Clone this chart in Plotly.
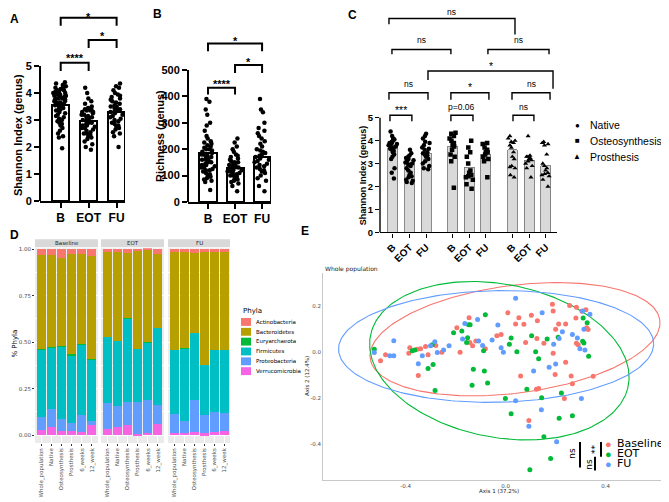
import numpy as np
import plotly.graph_objects as go

W, H = 669, 502
OFF = 8  # the page body adds an 8 px margin around the figure
ARIAL = "Liberation Sans, Arial, sans-serif"
GG = "DejaVu Sans, Liberation Sans, sans-serif"

# ---------------- panels A / B: diversity per time point ----------------
timepoints = ["B", "EOT", "FU"]

shannon_mean = [3.55, 2.95, 3.30]
shannon_b = [4.4, 4.35, 4.3, 4.25, 4.2, 4.2, 4.15, 4.1, 4.1, 4.05, 4.05, 4.0, 4.0, 4.0, 3.95,
             3.95, 3.9, 3.9, 3.9, 3.85, 3.85, 3.8, 3.8, 3.8, 3.75, 3.75, 3.7, 3.7, 3.65, 3.65,
             3.6, 3.6, 3.55, 3.55, 3.5, 3.5, 3.45, 3.4, 3.4, 3.35, 3.3, 3.25, 3.2, 3.15, 3.1,
             3.05, 3.0, 2.95, 2.9, 2.85, 2.8, 2.7, 2.6, 2.5, 2.4, 2.35, 1.95]
shannon_eot = [4.2, 4.0, 3.8, 3.7, 3.6, 3.5, 3.45, 3.4, 3.4, 3.35, 3.35, 3.3, 3.3, 3.25, 3.2,
               3.2, 3.15, 3.1, 3.1, 3.05, 3.0, 3.0, 2.95, 2.9, 2.9, 2.85, 2.8, 2.8, 2.75, 2.7,
               2.7, 2.65, 2.6, 2.55, 2.5, 2.5, 2.45, 2.4, 2.35, 2.3, 2.2, 2.1, 2.0, 1.9]
shannon_fu = [4.35, 4.25, 4.2, 4.1, 4.0, 3.95, 3.9, 3.85, 3.8, 3.75, 3.7, 3.65, 3.6, 3.55, 3.5,
              3.5, 3.45, 3.4, 3.4, 3.35, 3.3, 3.3, 3.25, 3.2, 3.15, 3.1, 3.05, 3.0, 2.95, 2.9,
              2.85, 2.8, 2.75, 2.7, 2.65, 2.55, 2.5, 2.4, 2.0]

richness_mean = [185, 130, 172]
richness_b = [390, 380, 350, 330, 300, 290, 270, 250, 240, 230, 225, 220, 215, 210, 205, 200,
              200, 195, 190, 185, 180, 180, 175, 170, 170, 165, 160, 160, 155, 150, 150, 145,
              140, 140, 135, 130, 130, 125, 120, 120, 115, 110, 105, 100, 95, 90, 85, 80, 75, 45]
richness_eot = [240, 225, 210, 200, 190, 180, 175, 170, 165, 160, 155, 150, 150, 145, 140, 140,
                135, 135, 130, 130, 125, 125, 120, 120, 115, 115, 110, 110, 105, 100, 100, 95,
                90, 85, 80, 75, 70, 60, 40]
richness_fu = [390, 350, 340, 300, 280, 270, 260, 250, 240, 230, 220, 210, 200, 195, 190, 185,
               180, 175, 170, 165, 160, 155, 150, 145, 140, 135, 130, 125, 120, 115, 110, 100,
               90, 80, 60, 40]

# ---------------- panel C: Shannon by surgery type ----------------
surgery = ["Native", "Osteosynthesis", "Prosthesis"]
surgery_symbol = ["circle", "square", "triangle-up"]
c_mean = {
    "Native": [3.70, 3.05, 3.45],
    "Osteosynthesis": [3.75, 2.85, 3.40],
    "Prosthesis": [3.60, 3.15, 2.90],
}
c_native = [
    [4.4, 4.2, 4.1, 4.05, 4.0, 3.95, 3.9, 3.9, 3.85, 3.8, 3.8, 3.75, 3.7, 3.7, 3.65, 3.6, 3.55,
     3.5, 3.4, 3.3, 3.2, 2.8, 2.6, 2.35],
    [3.6, 3.45, 3.35, 3.3, 3.25, 3.2, 3.15, 3.1, 3.05, 3.0, 2.95, 2.9, 2.8, 2.7, 2.6, 2.5,
     2.45, 2.4, 2.3, 2.25, 2.2, 2.15],
    [4.3, 4.2, 4.1, 3.95, 3.9, 3.8, 3.7, 3.65, 3.6, 3.5, 3.45, 3.4, 3.35, 3.3, 3.2, 3.1, 3.0,
     2.9, 2.8, 2.75],
]
c_osteo = [
    [4.35, 4.3, 4.2, 4.1, 4.0, 3.9, 3.8, 3.75, 3.6, 3.4, 3.3, 3.1, 1.95],
    [4.0, 3.7, 3.5, 3.3, 3.0, 2.7, 2.6, 2.5, 2.45, 2.4, 2.3, 2.1, 1.9],
    [3.9, 3.85, 3.7, 3.6, 3.5, 3.5, 3.4, 3.3, 3.2, 3.1, 2.4],
]
c_prosth = [
    [4.2, 4.1, 4.0, 3.95, 3.9, 3.8, 3.7, 3.5, 3.3, 3.2, 2.9, 2.85, 2.8, 2.5, 2.4],
    [4.2, 3.35, 3.3, 3.3, 3.25, 3.2, 3.15, 3.1, 3.0, 2.9, 2.8, 2.4],
    [3.95, 3.9, 3.85, 3.8, 3.4, 3.0, 2.9, 2.8, 2.7, 2.6, 2.55, 2.5, 2.45, 2.3, 2.0],
]

# ---------------- panel D: relative abundance of phyla ----------------
facets = ["Baseline", "EOT", "FU"]
d_samples = ["Whole_population", "Native", "Osteosynthesis", "Prosthesis", "6_weeks", "12_week"]
phyla = ["Actinobacteria", "Bacteroidetes", "Euryarchaeota", "Firmicutes",
         "Proteobacteria", "Verrucomicrobia"]
phyla_colors = ["#F8766D", "#B79F00", "#00BA38", "#00BFC4", "#619CFF", "#F564E3"]
# 18 values each: 6 samples x (Baseline, EOT, FU)
actinobacteria = [0.032, 0.030, 0.046, 0.025, 0.025, 0.037,
                  0.018, 0.015, 0.021, 0.010, 0.005, 0.028,
                  0.018, 0.018, 0.020, 0.014, 0.018, 0.018]
bacteroidetes = [0.505, 0.495, 0.474, 0.540, 0.485, 0.551,
                 0.452, 0.477, 0.351, 0.526, 0.496, 0.395,
                 0.523, 0.512, 0.429, 0.608, 0.523, 0.523]
euryarchaeota = [0.005, 0.005, 0.005, 0.005, 0.004, 0.007,
                 0.002, 0.001, 0.001, 0.001, 0.001, 0.001,
                 0.001, 0.003, 0.001, 0.001, 0.001, 0.001]
firmicutes = [0.358, 0.330, 0.390, 0.365, 0.376, 0.327,
              0.356, 0.349, 0.451, 0.283, 0.308, 0.414,
              0.343, 0.393, 0.360, 0.269, 0.335, 0.340]
proteobacteria = [0.070, 0.096, 0.065, 0.045, 0.092, 0.025,
                  0.137, 0.114, 0.123, 0.176, 0.176, 0.104,
                  0.101, 0.060, 0.172, 0.099, 0.105, 0.098]
verrucomicrobia = [0.030, 0.044, 0.020, 0.020, 0.018, 0.053,
                   0.035, 0.044, 0.053, 0.004, 0.014, 0.058,
                   0.014, 0.014, 0.018, 0.009, 0.018, 0.020]
phyla_values = [actinobacteria, bacteroidetes, euryarchaeota, firmicutes,
                proteobacteria, verrucomicrobia]

# ---------------- panel E: PCoA, whole population ----------------
e_groups = ["Baseline", "EOT", "FU"]
e_colors = ["#F8766D", "#00BA38", "#619CFF"]
base_x = [-0.480, -0.500, -0.383, -0.387, -0.353, -0.340, -0.320, -0.310, -0.279, -0.349,
          -0.255, -0.195, -0.182, -0.146, -0.143, -0.132, -0.119, -0.081, -0.035, -0.018,
          0.009, 0.040, 0.053, 0.073, 0.103, 0.127, 0.187, 0.190, 0.212, 0.240, 0.256, 0.283,
          0.281, 0.305, 0.321, 0.330, 0.324, 0.200, 0.080, 0.125, 0.153, 0.190, 0.240, 0.060,
          0.198, 0.262, 0.267, 0.350, 0.123, 0.132, 0.235, 0.093, 0.283, 0.290]
base_y = [-0.010, -0.036, 0.021, -0.003, 0.014, 0.016, 0.026, -0.010, 0.030, -0.100,
          0.001, 0.108, 0.001, 0.151, 0.043, 0.029, 0.050, 0.016, 0.073, 0.078,
          0.173, 0.124, 0.151, 0.123, 0.162, 0.138, 0.210, 0.180, 0.124, 0.124, 0.204, 0.197,
          0.150, 0.179, 0.186, 0.100, 0.108, 0.101, 0.043, 0.061, 0.040, -0.003, -0.043, -0.103,
          -0.096, -0.103, -0.136, -0.104, -0.160, -0.157, -0.201, -0.296, 0.040, 0.033]
eot_x = [-0.525, -0.373, -0.363, -0.293, -0.290, -0.310, -0.282, -0.208, -0.175, -0.156,
         -0.152, -0.148, -0.142, -0.129, -0.134, -0.085, -0.081, -0.088, -0.072,
         0.022, 0.015, 0.045, 0.104, 0.120, 0.132, 0.166, 0.210, 0.310, 0.326, 0.308, 0.313,
         0.332, 0.085, -0.001, 0.144, 0.223, 0.022, 0.214, 0.267, 0.153, 0.180, 0.097]
eot_y = [0.014, 0.007, 0.011, 0.033, -0.053, -0.070, -0.166, 0.086, 0.093, 0.043,
         0.064, 0.121, 0.121, -0.073, -0.143, -0.081, 0.164, 0.007, -0.133,
         0.063, 0.036, 0.003, 0.073, 0.003, -0.027, 0.059, 0.066, 0.150, 0.129, 0.049, 0.041,
         -0.017, -0.160, -0.201, -0.197, -0.177, -0.267, -0.286, -0.276, -0.367, -0.462, -0.511]
fu_x = [-0.525, -0.447, -0.463, -0.447, -0.349, -0.333, -0.300, -0.283, -0.273, -0.248,
        -0.226, -0.172, -0.163, -0.112, -0.108, -0.092, -0.054, -0.031, -0.018,
        0.040, 0.146, 0.227, 0.267, 0.287, 0.308, 0.313, 0.337, 0.214, 0.192, -0.009, 0.317,
        0.297, 0.200, 0.174, 0.112, 0.303, 0.040, 0.143, 0.093, 0.204]
fu_y = [0.000, 0.051, -0.014, -0.014, -0.049, -0.014, 0.029, 0.047, 0.000, 0.011,
        0.029, 0.059, 0.126, 0.143, 0.050, 0.030, 0.054, 0.119, 0.021,
        0.236, 0.173, 0.090, 0.078, 0.063, 0.180, 0.101, 0.166, 0.061, 0.036, 0.001, 0.011,
        0.016, -0.050, -0.064, -0.081, -0.200, -0.210, -0.250, -0.321, -0.389]
# 95% ellipses: centre x, centre y, semi-major, semi-minor, angle (deg)
ellipse_params = [(0.0375, 0.0575, 0.585, 0.234, 8.4),
                  (-0.025, -0.036, 0.527, 0.332, -13.2),
                  (-0.038, 0.026, 0.630, 0.243, 1.2)]


def px(p):
    return min(max((p - OFF) / W, 0), 1)


def py(p):
    return min(max(1 - (p - OFF) / H, 0), 1)


fig = go.Figure()
shapes = []
annotations = []


def ann(text, x, y, xref="paper", yref="paper", size=10, family=ARIAL, color="black",
        weight="normal", xanchor="center", yanchor="middle", **kw):
    if xref == "paper":
        x = (x - OFF) / W
    if yref == "paper":
        y = 1 - (y - OFF) / H
    annotations.append(dict(text=text, x=x, y=y, xref=xref, yref=yref, showarrow=False,
                            xanchor=xanchor, yanchor=yanchor,
                            font=dict(size=size, family=family, color=color, weight=weight),
                            **kw))


def hidden_box(vals, x0, width, xa, ya, symbol="circle", size=4.5):
    return go.Box(y=vals, x0=x0, width=width, boxpoints="all", jitter=0.9, pointpos=0,
                  marker=dict(color="black", size=size, symbol=symbol),
                  line=dict(width=0, color="rgba(0,0,0,0)"), fillcolor="rgba(0,0,0,0)",
                  whiskerwidth=0, xaxis=xa, yaxis=ya, hoverinfo="skip", showlegend=False)


def bracket(xa, ya, x0, x1, y, l0, l1, label, ly, size, bold, lw):
    shapes.append(dict(type="path", xref=xa, yref=ya,
                       path=f"M {x0},{l0} L {x0},{y} L {x1},{y} L {x1},{l1}",
                       line=dict(color="black", width=lw)))
    star = label.startswith("*")
    ann(label, (x0 + x1) / 2, ly, xref=xa, yref=ya, size=size + (2 if star else 0),
        weight="bold" if bold else "normal", yshift=-3 if star else 0)


# ---- A ----
fig.add_trace(go.Bar(x=[0, 1, 2], y=shannon_mean, width=0.6, xaxis="x", yaxis="y",
                     marker=dict(color="white", line=dict(color="black", width=2)),
                     showlegend=False, hoverinfo="skip"))
for i, vals in enumerate([shannon_b, shannon_eot, shannon_fu]):
    fig.add_trace(hidden_box(vals, i, 0.6, "x", "y"))
for x0, x1, y, l0, l1, lab, ly in [(0, 2, 6.79, 6.50, 6.50, "*", 6.93),
                                   (1, 2, 5.97, 5.67, 5.67, "*", 6.21),
                                   (0, 1, 5.12, 4.82, 4.82, "****", 5.43)]:
    bracket("x", "y", x0, x1, y, l0, l1, lab, ly, 9, True, 2)

# ---- B ----
fig.add_trace(go.Bar(x=[0, 1, 2], y=richness_mean, width=0.63, xaxis="x2", yaxis="y2",
                     marker=dict(color="white", line=dict(color="black", width=2)),
                     showlegend=False, hoverinfo="skip"))
for i, vals in enumerate([richness_b, richness_eot, richness_fu]):
    fig.add_trace(hidden_box(vals, i, 0.63, "x2", "y2"))
for x0, x1, y, l0, l1, lab, ly in [(0, 2, 601, 571, 571, "*", 623),
                                   (1, 2, 519, 489, 489, "*", 541),
                                   (0, 1, 433, 407, 407, "****", 459)]:
    bracket("x2", "y2", x0, x1, y, l0, l1, lab, ly, 9, True, 2)

# ---- C ----
c_pos = [g * 3.6 + k for g in range(3) for k in range(3)]
c_heights = [v for s in surgery for v in c_mean[s]]
fig.add_trace(go.Bar(x=c_pos, y=c_heights, width=0.6, xaxis="x3", yaxis="y3",
                     marker=dict(color="#D9D9D9", line=dict(color="#6E6E6E", width=0.8)),
                     showlegend=False, hoverinfo="skip"))
for g, group in enumerate([c_native, c_osteo, c_prosth]):
    for k, vals in enumerate(group):
        fig.add_trace(hidden_box(vals, g * 3.6 + k, 0.6, "x3", "y3",
                                 symbol=surgery_symbol[g], size=4.5))
c_brackets = [
    (-0.24, 7.35, 9.33, 9.08, 8.63, "ns", 9.62),
    (-0.06, 3.49, 7.98, 7.77, 7.77, "ns", 8.41),
    (5.72, 9.40, 7.98, 7.77, 7.77, "ns", 8.41),
    (2.11, 9.64, 7.04, 6.65, 6.27, "*", 7.38),
    (-0.24, 2.11, 6.09, 5.79, 5.79, "ns", 6.48),
    (3.49, 5.78, 6.09, 5.79, 5.79, "*", 6.48),
    (7.17, 9.46, 6.09, 5.79, 5.79, "ns", 6.48),
    (-0.18, 1.14, 5.11, 4.85, 4.85, "***", 5.45),
    (3.49, 4.82, 5.11, 4.85, 4.85, "p=0.06", 5.45),
    (7.23, 8.49, 5.11, 4.85, 4.85, "ns", 5.45),
]
for x0, x1, y, l0, l1, lab, ly in c_brackets:
    bracket("x3", "y3", x0, x1, y, l0, l1, lab, ly, 8.5, False, 1.4)
for i, (name, sym) in enumerate(zip(surgery, ["\u25CF", "\u25A0", "\u25B2"])):
    ann(sym, 577, 125 + 16 * i, size=8)
    ann(name, 588, 125 + 16 * i, size=10.5, xanchor="left")

# ---- D ----
d_dom = [(35, 98), (101, 164), (168, 230)]
for f, facet in enumerate(facets):
    xa = "x" + str(4 + f)
    ya = "y" + str(4 + f)
    # stack from the bottom: last phylum first
    for p in reversed(range(len(phyla))):
        fig.add_trace(go.Bar(x=d_samples, y=phyla_values[p][f * 6:(f + 1) * 6], width=0.9,
                             marker=dict(color=phyla_colors[p], line=dict(width=0)),
                             xaxis=xa, yaxis=ya, showlegend=False, hoverinfo="skip"))
    shapes.append(dict(type="rect", xref=xa + " domain", yref=ya + " domain", x0=0, x1=1,
                       y0=0, y1=1, fillcolor="#EBEBEB", line=dict(width=0), layer="below"))
    shapes.append(dict(type="rect", xref=xa + " domain", yref="paper", x0=0, x1=1,
                       y0=py(249), y1=py(241), fillcolor="#D9D9D9", line=dict(width=0)))
    annotations.append(dict(x=0.5, y=py(245), xref=xa + " domain", yref="paper", text=facet,
                            showarrow=False, xanchor="center", yanchor="middle",
                            font=dict(size=5.5, family=GG, color="#1A1A1A")))
ann("% Phyla", 15, 347, size=7, family=GG, textangle=-90)
ann("Phyla", 241, 314, size=7, family=GG, xanchor="left")
for i, (name, col) in enumerate(zip(phyla, phyla_colors)):
    yc = 325 + 10 * i
    shapes.append(dict(type="rect", xref="paper", yref="paper", x0=px(241), x1=px(251),
                       y0=py(yc + 4), y1=py(yc - 4), fillcolor=col, line=dict(width=0)))
    ann(name, 254, yc, size=5.5, family=GG, xanchor="left")

# ---- E ----
t = np.linspace(0, 2 * np.pi, 240)
for (cx, cy, a, b, ang), col in zip(ellipse_params, e_colors):
    th = np.deg2rad(ang)
    ex = cx + a * np.cos(t) * np.cos(th) - b * np.sin(t) * np.sin(th)
    ey = cy + a * np.cos(t) * np.sin(th) + b * np.sin(t) * np.cos(th)
    fig.add_trace(go.Scatter(x=ex, y=ey, mode="lines", line=dict(color=col, width=1.1),
                             xaxis="x7", yaxis="y7", showlegend=False, hoverinfo="skip"))
for xs, ys, col in zip([base_x, eot_x, fu_x], [base_y, eot_y, fu_y], e_colors):
    fig.add_trace(go.Scatter(x=xs, y=ys, mode="markers", marker=dict(color=col, size=5),
                             xaxis="x7", yaxis="y7", showlegend=False, hoverinfo="skip"))
ann("Whole population", 323, 271, size=6, family=GG, color="#222", xanchor="left")
ann("Axis 1 (37.2%)", 499, 497, size=5.5, family=GG, color="#222")
ann("Axis 2 (12.4%)", 307, 380, size=5.5, family=GG, color="#222", textangle=-90)
for i, (name, col) in enumerate(zip(e_groups, e_colors)):
    ann("\u25CF", 608, 449 + 10 * i, size=11, color=col)
    ann(name, 615, 449 + 10 * i, size=11, family=GG, xanchor="left")
for x, y0, y1, lab, lx, ly in [(580, 447, 473, "ns", 572, 459),
                               (595, 462, 476, "ns", 589, 470),
                               (601, 447, 462, "**", 595, 454)]:
    shapes.append(dict(type="line", xref="paper", yref="paper", x0=px(x), x1=px(x),
                       y0=py(y0), y1=py(y1), line=dict(color="black", width=2)))
    ann(lab, lx, ly, size=9, family=GG, textangle=-90)

# ---- y-axis lines (Prism style, only up to 5 / 500) ----
for xa, ya, top, lw in [("x", "y", 5, 2), ("x2", "y2", 500, 2), ("x3", "y3", 5, 1.4)]:
    shapes.append(dict(type="line", xref=xa + " domain", yref=ya, x0=0, x1=0, y0=0, y1=top,
                       line=dict(color="black", width=lw)))

# ---- y titles and panel letters ----
ann("Shannon Index (genus)", 18, 135, size=11, weight="bold", textangle=-90)
ann("Richness (genus)", 160, 136, size=11, weight="bold", textangle=-90)
ann("Shannon Index (genus)", 363, 176, size=9, weight="bold", textangle=-90)
for text, x, y in [("A", 8, 8), ("B", 157, 12), ("C", 352, 13), ("D", 8, 237), ("E", 305, 233)]:
    ann(text, x, y, size=12, weight="bold", xanchor="left" if x < 10 else "center",
        yanchor="top" if y < 10 else "middle")

prism_x = dict(showline=True, linecolor="black", linewidth=2, ticks="outside", tickwidth=2,
               ticklen=5, tickcolor="black", showgrid=False, zeroline=False,
               tickfont=dict(size=12, family=ARIAL, weight="bold", color="black"))
prism_y = dict(showline=False, ticks="outside", tickwidth=2, ticklen=5, tickcolor="black",
               showgrid=False, zeroline=False,
               tickfont=dict(size=11, family=ARIAL, weight="bold", color="black"))

layout = dict(
    width=W, height=H, margin=dict(l=0, r=0, t=0, b=0), barmode="stack",
    paper_bgcolor="white", plot_bgcolor="rgba(0,0,0,0)", showlegend=False,
    font=dict(family=ARIAL),
    xaxis=dict(prism_x, domain=[px(40), px(125)], range=[-0.74, 2.3], anchor="y",
               tickvals=[0, 1, 2], ticktext=timepoints),
    yaxis=dict(prism_y, domain=[py(202), py(OFF)], range=[0, (202 - OFF) / 27.4], anchor="x",
               tickvals=[0, 1, 2, 3, 4, 5]),
    xaxis2=dict(prism_x, domain=[px(188), px(271)], range=[-0.74, 2.33], anchor="y2",
                tickvals=[0, 1, 2], ticktext=timepoints),
    yaxis2=dict(prism_y, domain=[py(203), py(OFF)], range=[0, (203 - OFF) / 0.268],
                anchor="x2", tickvals=[0, 100, 200, 300, 400, 500]),
    xaxis3=dict(prism_x, domain=[px(380), px(557)], range=[-0.78, 9.88], anchor="y3",
                tickvals=c_pos, ticktext=timepoints * 3, tickangle=-45, linewidth=1.4,
                tickwidth=1.4, ticklen=4,
                tickfont=dict(size=10, family=ARIAL, weight="bold", color="black")),
    yaxis3=dict(prism_y, domain=[py(234), py(OFF)], range=[0, (234 - OFF) / 23.3], anchor="x3",
                tickvals=[0, 1, 2, 3, 4, 5], tickwidth=1.4, ticklen=4,
                tickfont=dict(size=9.5, family=ARIAL, weight="bold", color="black")),
    xaxis7=dict(domain=[px(323), 1], range=[-0.730, 0.653 + (OFF / 248.75)], anchor="y7",
                showline=True, linecolor="#C8C8C8", linewidth=1, showgrid=False,
                zeroline=False, ticks="", tickvals=[-0.4, 0, 0.4],
                ticktext=["-0.4", "0.0", "0.4"],
                tickfont=dict(size=5.5, family=GG, color="#4D4D4D")),
    yaxis7=dict(domain=[py(486), py(275)], range=[-0.557, 0.347], anchor="x7",
                showline=True, linecolor="#C8C8C8", linewidth=1, showgrid=False,
                zeroline=False, ticks="", tickvals=[-0.4, -0.2, 0, 0.2],
                ticktext=["-0.4", "-0.2", "0.0", "0.2"],
                tickfont=dict(size=5.5, family=GG, color="#4D4D4D")),
)
for f, (l, r) in enumerate(d_dom):
    n = str(4 + f)
    layout["xaxis" + n] = dict(domain=[px(l), px(r)], range=[-0.6, 5.6], anchor="y" + n,
                               type="category", categoryorder="array",
                               categoryarray=d_samples, showgrid=True, gridcolor="white",
                               gridwidth=0.8, zeroline=False, showline=False,
                               ticks="outside", ticklen=2, tickcolor="#333333", tickangle=-90,
                               tickfont=dict(size=5.5, family=GG, color="#4D4D4D"))
    layout["yaxis" + n] = dict(domain=[py(448), py(250)], range=[-0.042, 1.005],
                               anchor="x" + n, showgrid=True, gridcolor="white", gridwidth=0.8,
                               zeroline=False, showline=False,
                               tickvals=[0, 0.25, 0.5, 0.75, 1.0],
                               ticktext=["0.00", "0.25", "0.50", "0.75", "1.00"],
                               showticklabels=(f == 0), ticks="outside" if f == 0 else "",
                               ticklen=2, tickcolor="#333333",
                               minor=dict(showgrid=True, gridcolor="white", gridwidth=0.4,
                                          tickvals=[0.125, 0.375, 0.625, 0.875]),
                               tickfont=dict(size=5.5, family=GG, color="#4D4D4D"))

fig.update_layout(**layout)
fig.update_layout(shapes=shapes, annotations=annotations)
fig.write_html("out.html")
